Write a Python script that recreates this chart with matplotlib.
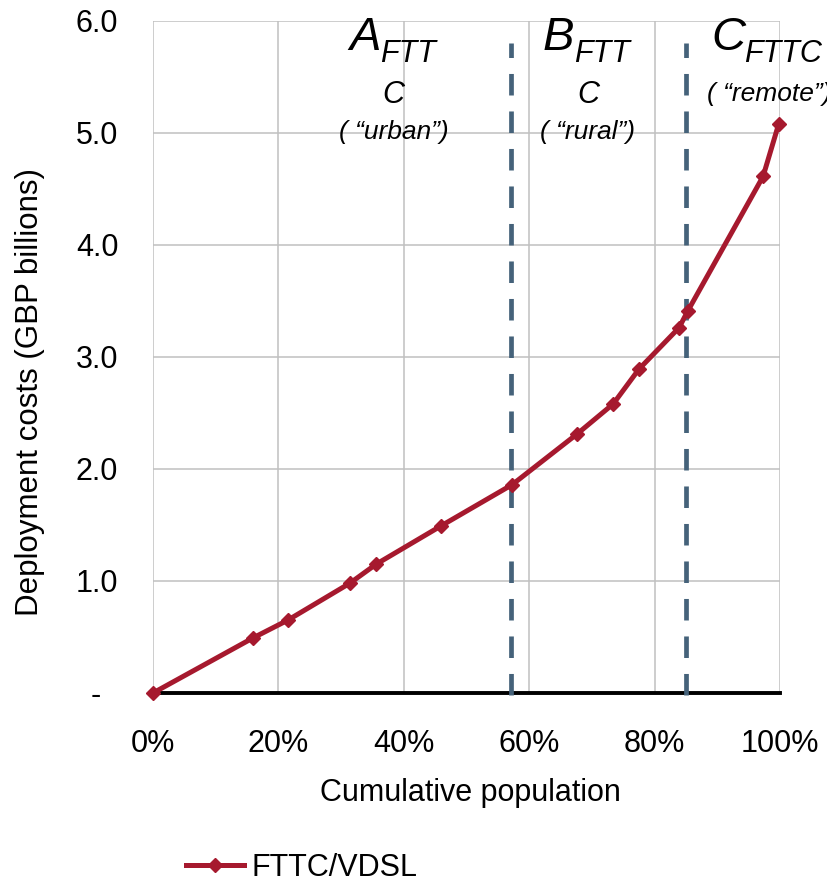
import matplotlib
matplotlib.use("Agg")
import matplotlib.pyplot as plt
from matplotlib.ticker import FixedLocator, FixedFormatter

plt.rcParams['font.family'] = ['Liberation Sans', 'DejaVu Sans']
plt.rcParams['lines.scale_dashes'] = False

# Data
cum_pop = [0.0, 15.9, 21.5, 31.4, 35.6, 45.9, 57.3, 67.6, 73.4, 77.5, 83.9, 85.3, 97.3, 99.8]
cost = [0.0, 0.49, 0.65, 0.98, 1.15, 1.49, 1.86, 2.31, 2.58, 2.89, 3.26, 3.41, 4.61, 5.08]
boundaries = [57.1, 85.0]
series_name = "FTTC/VDSL"
x_ticks = [0, 20, 40, 60, 80, 100]
x_ticklabels = ["0%", "20%", "40%", "60%", "80%", "100%"]
y_ticks = [0, 1, 2, 3, 4, 5, 6]
y_ticklabels = ["-  ", "1.0", "2.0", "3.0", "4.0", "5.0", "6.0"]
x_label = "Cumulative population"
y_label = "Deployment costs (GBP billions)"

W, H = 827, 885
fig = plt.figure(figsize=(W / 100, H / 100), dpi=100)
ax = fig.add_axes([153 / W, 1 - 693 / H, (780 - 153) / W, (693 - 20.7) / H])

red = '#A6192E'
blue = '#45627A'
fs = 22

ax.set_xlim(0, 100)
ax.set_ylim(0, 6)
ax.xaxis.set_major_locator(FixedLocator(x_ticks))
ax.xaxis.set_major_formatter(FixedFormatter(x_ticklabels))
ax.yaxis.set_major_locator(FixedLocator(y_ticks))
ax.yaxis.set_major_formatter(FixedFormatter(y_ticklabels))
ax.tick_params(axis='both', length=0, labelsize=fs, colors='black')
ax.tick_params(axis='x', pad=26)
ax.tick_params(axis='y', pad=25)
ax.grid(True, color='#C0C0C0', linewidth=1.1)
ax.set_axisbelow(True)
for s in ['left', 'right', 'top']:
    ax.spines[s].set_visible(False)
ax.spines['bottom'].set_linewidth(2.8)
ax.spines['bottom'].set_color('black')
ax.spines['bottom'].set_zorder(2.5)

for b in boundaries:
    ax.plot([b, b], [-0.02, 5.8], color=blue, linewidth=3.4,
            dashes=(15.5, 11.5), zorder=3, clip_on=False)

ax.plot(cum_pop, cost, color=red, linewidth=3.6, marker='D', markersize=7,
        markeredgecolor=red, markerfacecolor=red, label=series_name,
        zorder=4, clip_on=False)

fig.text(470 / W, 1 - 793 / H, x_label, ha='center', va='center', fontsize=fs)
fig.text(30 / W, 1 - 392 / H, y_label, ha='center', va='center', fontsize=22.5,
         rotation=90)

# Region annotations (pixel positions converted to figure coords)
def ftext(px, py, s, size, ha='left', va='baseline'):
    fig.text(px / W, 1 - py / H, s, fontsize=size, style='italic', ha=ha, va=va)

ftext(349, 50, "A", 34)
ftext(380, 62, "FTT", 22)
ftext(393, 103, "C", 22, ha='center')
ftext(394, 139, "( \u201curban\u201d)", 19, ha='center')

ftext(543, 50, "B", 34)
ftext(574, 62, "FTT", 22)
ftext(588, 103, "C", 22, ha='center')
ftext(588, 139, "( \u201crural\u201d)", 19, ha='center')

ftext(711, 50, "C", 34)
ftext(744, 62, "FTTC", 22)
ftext(707, 101, "( \u201cremote\u201d)", 19)

leg = fig.legend(handles=ax.get_lines()[-1:], loc='center left',
                 bbox_to_anchor=(186 / W, 1 - 868 / H), frameon=False,
                 fontsize=fs, handlelength=1.9, handletextpad=0.25,
                 borderaxespad=0, borderpad=0)

fig.savefig('out.png', dpi=100)
